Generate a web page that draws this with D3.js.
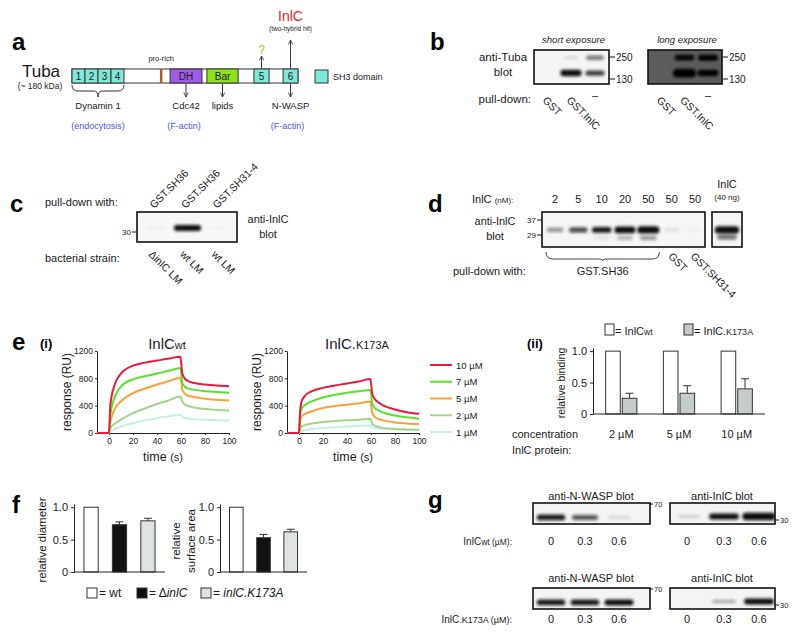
<!DOCTYPE html>
<html>
<head>
<meta charset="utf-8">
<script src="https://cdnjs.cloudflare.com/ajax/libs/d3/7.8.5/d3.min.js"></script>
<style>
  body { margin: 0; background: #fff; }
  svg text { font-family: "Liberation Sans", Arial, Helvetica, sans-serif; fill: #1a1a1a; }
</style>
</head>
<body>
<div id="fig"></div>
<script>
// ---- data ----
// a: Tuba domain map, start/end in % of protein length
const tubaDomains = [
  { name: '1', type: 'sh3', start: 0, end: 5.75 },
  { name: '2', type: 'sh3', start: 5.75, end: 11.5 },
  { name: '3', type: 'sh3', start: 11.5, end: 17.25 },
  { name: '4', type: 'sh3', start: 17.25, end: 23 },
  { name: '', type: 'pro', start: 38.9, end: 40 },
  { name: 'DH', type: 'dh', start: 43.4, end: 57.5 },
  { name: 'Bar', type: 'bar', start: 59.7, end: 73.5 },
  { name: '5', type: 'sh3', start: 80.5, end: 87.2 },
  { name: '6', type: 'sh3', start: 93.4, end: 100 }
];

// b: anti-Tuba pull-down blots (band kDa, intensity)
const bLanes = ['GST', 'GST.InlC', '–'];
const bMarkers = [250, 130];
const bShortBands = [
  { lane: 'GST.InlC', kda: 245, v: 0.12 },
  { lane: 'GST.InlC', kda: 155, v: 1.15 },
  { lane: '–', kda: 245, v: 0.55 },
  { lane: '–', kda: 155, v: 0.8 }
];
const bLongBands = [
  { lane: 'GST.InlC', kda: 245, v: 0.95 },
  { lane: 'GST.InlC', kda: 155, v: 1.8 },
  { lane: '–', kda: 245, v: 1.0 },
  { lane: '–', kda: 155, v: 1.15 }
];

// c: pull-down with SH3 constructs from bacterial lysates
const cBaits = ['GST.SH36', 'GST.SH36', 'GST.SH31-4'];
const cStrains = ['ΔinlC LM', 'wt LM', 'wt LM'];
const cBandKda = 32;
const cBandV = [0.04, 1.0, 0.02];

// d: InlC titration
const dConcNM = [2, 5, 10, 20, 50, 50, 50];
const dMainV = [0.45, 0.75, 0.95, 1.2, 1.4, 0.12, 0.04];
const dLowV = [0, 0, 0.1, 0.3, 0.45, 0, 0];
const dMarkers = [37, 29];
const dRefV = [1.35, 0.6];

// e(i): SPR sensorgrams (RU)
const sprTime = [-10, 0, 1, 2, 5, 10, 20, 30, 40, 50, 59.5, 61, 63, 66, 70, 80, 90, 100];
const sprConc = ['10 µM', '7 µM', '5 µM', '2 µM', '1 µM'];
const wt10 = [0, 0, 380, 520, 720, 870, 985, 1030, 1060, 1090, 1115, 880, 800, 760, 735, 710, 695, 685];
const wt7 = [0, 0, 250, 360, 540, 680, 785, 830, 870, 910, 950, 740, 680, 650, 635, 612, 600, 590];
const wt5 = [0, 0, 150, 220, 360, 465, 585, 650, 710, 760, 810, 640, 580, 545, 530, 500, 485, 475];
const wt2 = [0, 0, 60, 95, 140, 195, 290, 360, 425, 480, 535, 465, 420, 395, 378, 350, 338, 330];
const wt1 = [0, 0, 20, 35, 60, 95, 145, 185, 220, 245, 270, 235, 220, 210, 203, 193, 188, 184];
const k10 = [0, 0, 330, 450, 545, 605, 660, 695, 725, 755, 790, 580, 500, 450, 405, 345, 305, 280];
const k7 = [0, 0, 270, 350, 410, 460, 520, 560, 590, 610, 630, 440, 370, 330, 300, 255, 230, 210];
const k5 = [0, 0, 190, 240, 280, 315, 365, 395, 415, 435, 460, 300, 240, 205, 185, 155, 140, 130];
const k2 = [0, 0, 70, 95, 115, 135, 160, 175, 185, 195, 210, 140, 110, 90, 75, 60, 53, 48];
const k1 = [0, 0, 20, 30, 40, 55, 75, 85, 95, 105, 112, 85, 72, 65, 60, 53, 48, 45];
const sprTicksX = [0, 20, 40, 60, 80, 100];
const sprTicksY = [0, 400, 800, 1200];

// e(ii): relative binding
const bindConc = ['2 µM', '5 µM', '10 µM'];
const bindWt = [1, 1, 1];
const bindK = [0.25, 0.33, 0.40];
const bindKErr = [0.08, 0.12, 0.16];

// f: comet tail measurements
const strains = ['wt', 'ΔinlC', 'inlC.K173A'];
const diamVals = [1, 0.73, 0.79];
const diamErr = [0, 0.045, 0.04];
const areaVals = [1, 0.53, 0.62];
const areaErr = [0, 0.05, 0.04];

// g: competition blots
const gDoses = ['0', '0.3', '0.6'];
const gWtNwasp = [0.95, 0.7, 0.12];
const gWtInlc = [0.15, 1.0, 1.4];
const gKNwasp = [0.95, 0.95, 1.0];
const gKInlc = [0.0, 0.3, 1.0];

// ---- drawing ----
const svg = d3.select('#fig').append('svg').attr('width', 800).attr('height', 632);
const defs = svg.append('defs');
defs.append('filter').attr('id', 'blur')
  .attr('x', '-50%').attr('y', '-150%').attr('width', '200%').attr('height', '400%')
  .append('feGaussianBlur').attr('stdDeviation', 1.4);
defs.append('marker').attr('id', 'arr').attr('viewBox', '0 0 8 8')
  .attr('refX', 7).attr('refY', 4).attr('markerWidth', 6).attr('markerHeight', 6)
  .attr('orient', 'auto')
  .append('path').attr('d', 'M1,1 L7,4 L1,7').attr('fill', 'none')
  .attr('stroke', '#333').attr('stroke-width', 1.1);

function txt(g, x, y, s, o = {}) {
  const t = g.append('text').attr('x', x).attr('y', y).text(s)
    .style('font-size', (o.size || 10) + 'px');
  if (o.anchor) t.attr('text-anchor', o.anchor);
  if (o.weight) t.style('font-weight', o.weight);
  if (o.fill) t.style('fill', o.fill);
  if (o.italic) t.style('font-style', 'italic');
  if (o.rotate != null) t.attr('transform', `rotate(${o.rotate},${x},${y})`);
  return t;
}
function sub(t, s, size, italic) {
  const ts = t.append('tspan').text(s).style('font-size', size + 'px');
  if (italic) ts.style('font-style', 'italic');
  return t;
}
function arrow(g, x, y1, y2) {
  g.append('line').attr('x1', x).attr('x2', x).attr('y1', y1).attr('y2', y2)
    .attr('stroke', '#333').attr('stroke-width', 1).attr('marker-end', 'url(#arr)');
}

let clipId = 0;
// blot box with blurred bands
function blot(g, box, lx, bands, yOf, bg, ink) {
  const id = 'clip' + (clipId++);
  defs.append('clipPath').attr('id', id).append('rect')
    .attr('x', box.x0).attr('y', box.y0).attr('width', box.x1 - box.x0).attr('height', box.y1 - box.y0);
  g.append('rect').attr('x', box.x0).attr('y', box.y0)
    .attr('width', box.x1 - box.x0).attr('height', box.y1 - box.y0)
    .attr('fill', bg);
  const step = lx.step ? lx.step() : 24;
  const bw = d => step * (0.6 + 0.25 * Math.min(d.v, 1.6));
  const bh = d => 2.5 + 3.5 * d.v;
  g.append('g').attr('clip-path', `url(#${id})`).attr('filter', 'url(#blur)')
    .selectAll('rect').data(bands.filter(d => d.v > 0)).join('rect')
    .attr('x', d => lx(d.lane) - bw(d) / 2)
    .attr('y', d => yOf(d.kda) - bh(d) / 2)
    .attr('width', bw).attr('height', bh)
    .attr('rx', d => bh(d) / 2)
    .attr('fill', ink)
    .attr('opacity', d => Math.min(1, d.v));
  g.append('rect').attr('x', box.x0).attr('y', box.y0)
    .attr('width', box.x1 - box.x0).attr('height', box.y1 - box.y0)
    .attr('fill', 'none').attr('stroke', '#111').attr('stroke-width', 1.6);
}
function marker(g, x, y, label, side) {
  if (side === 'right') {
    g.append('line').attr('x1', x).attr('x2', x + 5).attr('y1', y).attr('y2', y).attr('stroke', '#111');
    txt(g, x + 6, y + 3.5, label, { size: 10 });
  } else {
    g.append('line').attr('x1', x - 5).attr('x2', x).attr('y1', y).attr('y2', y).attr('stroke', '#111');
    txt(g, x - 6, y + 3, label, { size: 8, anchor: 'end' });
  }
}

// panel letters
[['a', 12, 50], ['b', 430, 50], ['c', 10, 212], ['d', 428, 212],
 ['e', 12, 350], ['f', 12, 513], ['g', 428, 508]].forEach(([l, x, y]) =>
  txt(svg, x, y, l, { size: 24, weight: 'bold', fill: '#000' }));

// ---- a ----
{
  const g = svg.append('g');
  const x = d3.scaleLinear().domain([0, 100]).range([72, 298]);
  const y0 = 69, h = 14;
  const colors = { sh3: '#80e8d8', pro: '#a0602a', dh: '#9d5ce6', bar: '#8ee21e' };
  txt(g, 41, 77, 'Tuba', { size: 17, anchor: 'middle' });
  txt(g, 40, 89, '(~ 180 kDa)', { size: 8.5, anchor: 'middle' });
  g.append('rect').attr('x', x(0)).attr('y', y0).attr('width', x(100) - x(0)).attr('height', h)
    .attr('fill', '#fff').attr('stroke', '#333');
  g.selectAll('.dom').data(tubaDomains).join('rect')
    .attr('x', d => x(d.start)).attr('y', y0)
    .attr('width', d => x(d.end) - x(d.start)).attr('height', h)
    .attr('fill', d => colors[d.type]).attr('stroke', d => d.type === 'pro' ? 'none' : '#333');
  g.selectAll('.dl').data(tubaDomains.filter(d => d.name)).join('text')
    .attr('x', d => x((d.start + d.end) / 2)).attr('y', y0 + 10.5)
    .attr('text-anchor', 'middle').style('font-size', '10px').text(d => d.name);
  const mid = n => { const d = tubaDomains.find(e => e.name === n); return x((d.start + d.end) / 2); };
  const pro = tubaDomains.find(d => d.type === 'pro');
  txt(g, x((pro.start + pro.end) / 2), 61, 'pro-rich', { size: 7.5, anchor: 'middle' });
  // brace under SH3 1-4
  const a0 = x(0), a1 = x(23), m = (a0 + a1) / 2;
  g.append('path').attr('d', `M${a0},85 Q${a0},91 ${a0 + 6},91 L${m - 4},91 Q${m},91 ${m},97 Q${m},91 ${m + 4},91 L${a1 - 6},91 Q${a1},91 ${a1},85`)
    .attr('fill', 'none').attr('stroke', '#333');
  txt(g, m, 109, 'Dynamin 1', { size: 9.5, anchor: 'middle' });
  arrow(g, mid('DH'), 84, 97);
  txt(g, mid('DH'), 109, 'Cdc42', { size: 9.5, anchor: 'middle' });
  arrow(g, mid('Bar'), 84, 97);
  txt(g, mid('Bar'), 109, 'lipids', { size: 9.5, anchor: 'middle' });
  arrow(g, mid('6'), 84, 97);
  txt(g, mid('6'), 109, 'N-WASP', { size: 9.5, anchor: 'middle' });
  arrow(g, mid('5'), 68, 56);
  txt(g, mid('5'), 54, '?', { size: 12, anchor: 'middle', fill: '#8fd33c' });
  arrow(g, mid('6'), 68, 40);
  txt(g, mid('6'), 21, 'InlC', { size: 14, anchor: 'middle', fill: '#e8202a' });
  txt(g, mid('6'), 31, '(two-hybrid hit)', { size: 6.5, anchor: 'middle' });
  const blue = '#4b55e6';
  txt(g, m, 129, '(endocytosis)', { size: 9, anchor: 'middle', fill: blue });
  txt(g, mid('DH') - 2, 129, '(F-actin)', { size: 9, anchor: 'middle', fill: blue });
  txt(g, mid('6') - 3, 129, '(F-actin)', { size: 9, anchor: 'middle', fill: blue });
  g.append('rect').attr('x', 315).attr('y', 70).attr('width', 13).attr('height', 13)
    .attr('fill', colors.sh3).attr('stroke', '#333');
  txt(g, 333, 80, 'SH3 domain', { size: 9 });
}

// ---- b ----
{
  const g = svg.append('g');
  const yMW = d3.scaleLog().domain(bMarkers).range([57, 79]);
  const panels = [
    { x0: 534, x1: 609, title: 'short exposure', bands: bShortBands, bg: '#f5f5f5', ink: '#111' },
    { x0: 648, x1: 722, title: 'long exposure', bands: bLongBands, bg: '#5c5c5c', ink: '#050505' }
  ];
  panels.forEach(p => {
    const lx = d3.scalePoint().domain(bLanes).range([p.x0 + 13, p.x1 - 14]);
    blot(g, { x0: p.x0, x1: p.x1, y0: 50, y1: 84 }, lx, p.bands, yMW, p.bg, p.ink);
    bMarkers.forEach(k => marker(g, p.x1 + 1, yMW(k), k, 'right'));
    txt(g, (p.x0 + p.x1) / 2 + 2, 43, p.title, { size: 9.5, anchor: 'middle', italic: true });
    bLanes.forEach(l => {
      if (l === '–') txt(g, lx(l) - 3, 99, l, { size: 11 });
      else txt(g, lx(l) - 5, 101, l, { size: 10.5, rotate: 45 });
    });
  });
  txt(g, 503, 61, 'anti-Tuba', { size: 11.5, anchor: 'middle' });
  txt(g, 503, 76, 'blot', { size: 11.5, anchor: 'middle' });
  txt(g, 531, 103, 'pull-down:', { size: 11.5, anchor: 'end' });
}

// ---- c ----
{
  const g = svg.append('g');
  const lx = d3.scalePoint().domain(d3.range(3)).range([156, 219]);
  lx.step = () => 32;
  const yMW = d3.scaleLog().domain([30, 37]).range([232, 219]);
  const bands = cBandV.map((v, i) => ({ lane: i, kda: cBandKda, v }));
  blot(g, { x0: 137, x1: 237, y0: 212, y1: 242 }, lx, bands, yMW, '#f7f7f7', '#111');
  marker(g, 137, yMW(30), '30', 'left');
  txt(g, 45, 206, 'pull-down with:', { size: 11 });
  txt(g, 45, 262, 'bacterial strain:', { size: 11 });
  cBaits.forEach((b, i) => txt(g, lx(i) - 2, 209, b, { size: 10.5, rotate: -45 }));
  cStrains.forEach((s, i) => txt(g, lx(i) - 8, 255, s, { size: 10.5, rotate: 45 }));
  txt(g, 268, 223, 'anti-InlC', { size: 11, anchor: 'middle' });
  txt(g, 268, 238, 'blot', { size: 11, anchor: 'middle' });
}

// ---- d ----
{
  const g = svg.append('g');
  const lx = d3.scalePoint().domain(d3.range(dConcNM.length)).range([555, 695]);
  const yMW = d3.scaleLog().domain(dMarkers).range([220, 235]);
  const bands = [];
  dMainV.forEach((v, i) => bands.push({ lane: i, kda: 31.5, v }));
  dLowV.forEach((v, i) => bands.push({ lane: i, kda: 27.6, v }));
  blot(g, { x0: 542, x1: 705, y0: 212, y1: 247 }, lx, bands, yMW, '#f6f6f6', '#111');
  dMarkers.forEach(k => marker(g, 542, yMW(k), k, 'left'));
  const rx = d3.scalePoint().domain(['ref']).range([727, 727]);
  rx.step = () => 26;
  blot(g, { x0: 712, x1: 742, y0: 212, y1: 247 }, rx,
    [{ lane: 'ref', kda: 31.5, v: dRefV[0] }, { lane: 'ref', kda: 28, v: dRefV[1] }], yMW, '#f6f6f6', '#111');
  const t = txt(g, 472, 203, 'InlC ', { size: 11 });
  sub(t, '(nM):', 8);
  dConcNM.forEach((c, i) => txt(g, lx(i), 203, c, { size: 11, anchor: 'middle' }));
  txt(g, 727, 188, 'InlC', { size: 11, anchor: 'middle' });
  txt(g, 727, 200, '(40 ng)', { size: 8, anchor: 'middle' });
  txt(g, 495, 225, 'anti-InlC', { size: 11, anchor: 'middle' });
  txt(g, 495, 240, 'blot', { size: 11, anchor: 'middle' });
  const b0 = lx(0) - 9, b1 = lx(4) + 11, bm = (b0 + b1) / 2;
  g.append('path').attr('d', `M${b0},252 Q${b0},259 ${b0 + 7},259 L${bm - 3},259 Q${bm},259 ${bm},261 Q${bm},259 ${bm + 3},259 L${b1 - 7},259 Q${b1},259 ${b1},252`)
    .attr('fill', 'none').attr('stroke', '#444');
  txt(g, bm, 275, 'GST.SH36', { size: 11, anchor: 'middle' });
  txt(g, 453, 275, 'pull-down with:', { size: 11 });
  txt(g, lx(5) - 4, 257, 'GST', { size: 10.5, rotate: 45 });
  txt(g, lx(6) - 5, 257, 'GST.SH31-4', { size: 10.5, rotate: 45 });
}

// ---- e(i) ----
const sprColors = ['#e8193c', '#5ae22a', '#f9a13a', '#a4d38e', '#c4eee8'];
function styleAxis(sel, size) {
  sel.select('.domain').attr('stroke', '#222');
  sel.selectAll('.tick line').attr('stroke', '#222');
  sel.selectAll('text').style('font-size', size + 'px').attr('fill', '#1a1a1a');
}
function sprPanel(x0, x1, titleMain, titleSub, series) {
  const g = svg.append('g');
  const x = d3.scaleLinear().domain([-10, 100]).range([x0, x1]);
  const y = d3.scaleLinear().domain([0, 1200]).range([433, 351]);
  const line = d3.line().x((d, i) => x(sprTime[i])).y(d => y(d)).curve(d3.curveMonotoneX);
  g.append('g').attr('transform', 'translate(0,433)')
    .call(d3.axisBottom(x).tickValues(sprTicksX).tickSize(2).tickSizeOuter(0).tickPadding(3))
    .call(s => styleAxis(s, 8.5));
  g.append('g').attr('transform', `translate(${x0},0)`)
    .call(d3.axisLeft(y).tickValues(sprTicksY).tickFormat(d3.format('d')).tickSize(2).tickSizeOuter(0).tickPadding(2))
    .call(s => styleAxis(s, 8.5));
  series.map((s, i) => ({ s, c: sprColors[i] })).reverse().forEach(d => {
    g.append('path').datum(d.s).attr('d', line)
      .attr('fill', 'none').attr('stroke', d.c).attr('stroke-width', 2);
  });
  const cx = x(45);
  const t = txt(g, cx + 4, 349, titleMain, { size: 15, anchor: 'middle' });
  sub(t, titleSub, 11);
  txt(g, x(45), 461, 'time ', { size: 12.5, anchor: 'middle' }).call(tt => sub(tt, '(s)', 11));
  txt(g, x0 - 26, 392, 'response (RU)', { size: 12, anchor: 'middle', rotate: -90 });
}
sprPanel(97, 229, 'InlC', 'wt', [wt10, wt7, wt5, wt2, wt1]);
sprPanel(287, 419, 'InlC.', 'K173A', [k10, k7, k5, k2, k1]);
txt(svg, 40, 348, '(i)', { size: 13, weight: 'bold', fill: '#000' });
{
  const ly = d3.scalePoint().domain(sprConc).range([365, 432]);
  sprConc.forEach((c, i) => {
    svg.append('line').attr('x1', 430).attr('x2', 452).attr('y1', ly(c)).attr('y2', ly(c))
      .attr('stroke', sprColors[i]).attr('stroke-width', 2);
    txt(svg, 456, ly(c) + 3.5, c, { size: 9.5 });
  });
}

// ---- e(ii) ----
{
  const g = svg.append('g');
  const x = d3.scaleBand().domain(bindConc).range([595, 763]).paddingInner(0.39).paddingOuter(0.15);
  const xs = d3.scaleBand().domain(['wt', 'k']).range([0, x.bandwidth()]).padding(0.12);
  const y = d3.scaleLinear().domain([0, 1.05]).range([414, 348]);
  const gray = '#c6cdc9';
  bindConc.forEach((c, i) => {
    g.append('rect').attr('x', x(c) + xs('wt')).attr('y', y(bindWt[i]))
      .attr('width', xs.bandwidth()).attr('height', y(0) - y(bindWt[i]))
      .attr('fill', '#fff').attr('stroke', '#333');
    const bx = x(c) + xs('k') + xs.bandwidth() / 2;
    g.append('line').attr('x1', bx).attr('x2', bx).attr('y1', y(bindK[i])).attr('y2', y(bindK[i] + bindKErr[i])).attr('stroke', '#333');
    g.append('line').attr('x1', bx - 4).attr('x2', bx + 4).attr('y1', y(bindK[i] + bindKErr[i])).attr('y2', y(bindK[i] + bindKErr[i])).attr('stroke', '#333');
    g.append('rect').attr('x', x(c) + xs('k')).attr('y', y(bindK[i]))
      .attr('width', xs.bandwidth()).attr('height', y(0) - y(bindK[i]))
      .attr('fill', gray).attr('stroke', '#333');
    txt(g, x(c) + x.bandwidth() / 2, 438, c, { size: 11, anchor: 'middle' });
  });
  g.append('g').attr('transform', 'translate(593,0)')
    .call(d3.axisLeft(y).tickValues([0, 0.5, 1]).tickFormat(d => d === 0 ? '0' : d3.format('.1f')(d)).tickSize(3).tickSizeOuter(0))
    .call(s => styleAxis(s, 11));
  g.append('line').attr('x1', 593).attr('x2', 765).attr('y1', 414).attr('y2', 414).attr('stroke', '#222');
  txt(g, 565, 383, 'relative binding', { size: 10.5, anchor: 'middle', rotate: -90 });
  txt(g, 512, 438, 'concentration', { size: 11 });
  txt(g, 512, 454, 'InlC protein:', { size: 11 });
  txt(g, 527, 348, '(ii)', { size: 13, weight: 'bold', fill: '#000' });
  g.append('rect').attr('x', 605).attr('y', 324).attr('width', 9).attr('height', 11).attr('fill', '#fff').attr('stroke', '#333');
  sub(txt(g, 615, 335, '= InlC', { size: 11 }), 'wt', 8.5);
  g.append('rect').attr('x', 684).attr('y', 324).attr('width', 9).attr('height', 11).attr('fill', gray).attr('stroke', '#333');
  sub(txt(g, 694, 335, '= InlC.', { size: 11 }), 'K173A', 9);
}

// ---- f ----
const strainFill = ['#fff', '#111', '#dfe4e1'];
function fChart(x0, x1, vals, errs) {
  const g = svg.append('g');
  const x = d3.scaleBand().domain(strains).range([x0, x1]).paddingInner(0.5).paddingOuter(0.35);
  const y = d3.scaleLinear().domain([0, 1.05]).range([572, 504]);
  strains.forEach((s, i) => {
    const bx = x(s) + x.bandwidth() / 2;
    if (errs[i] > 0) {
      g.append('line').attr('x1', bx).attr('x2', bx).attr('y1', y(vals[i])).attr('y2', y(vals[i] + errs[i])).attr('stroke', '#333');
      g.append('line').attr('x1', bx - 4).attr('x2', bx + 4).attr('y1', y(vals[i] + errs[i])).attr('y2', y(vals[i] + errs[i])).attr('stroke', '#333');
    }
    g.append('rect').attr('x', x(s)).attr('y', y(vals[i]))
      .attr('width', x.bandwidth()).attr('height', y(0) - y(vals[i]))
      .attr('fill', strainFill[i]).attr('stroke', '#333');
  });
  g.append('g').attr('transform', `translate(${x0},0)`)
    .call(d3.axisLeft(y).tickValues([0, 0.5, 1]).tickFormat(d => d === 0 ? '0' : d3.format('.1f')(d)).tickSize(3).tickSizeOuter(0))
    .call(s => styleAxis(s, 11));
  g.append('line').attr('x1', x0).attr('x2', x1).attr('y1', 572).attr('y2', 572).attr('stroke', '#222');
  return g;
}
fChart(74, 165, diamVals, diamErr);
txt(svg, 46, 540, 'relative diameter', { size: 11.5, anchor: 'middle', rotate: -90 });
fChart(220, 307, areaVals, areaErr);
txt(svg, 180, 541, 'relative', { size: 11.5, anchor: 'middle', rotate: -90 });
txt(svg, 195, 541, 'surface area', { size: 11.5, anchor: 'middle', rotate: -90 });
{
  const g = svg.append('g');
  const lx = [87, 137, 201];
  strains.forEach((s, i) => {
    g.append('rect').attr('x', lx[i]).attr('y', 588).attr('width', 10).attr('height', 10)
      .attr('fill', strainFill[i]).attr('stroke', '#333');
  });
  txt(g, 99, 597, '= wt', { size: 12 });
  sub(txt(g, 149, 597, '= Δ', { size: 12 }), 'inlC', 12, true);
  sub(txt(g, 213, 597, '= ', { size: 12 }), 'inlC.K173A', 12, true);
}

// ---- g ----
{
  const g = svg.append('g');
  const rows = [
    { y0: 503, title: 500, lab: 545, nw: gWtNwasp, inl: gWtInlc, name: 'wt', nameSize: 8.5 },
    { y0: 588, title: 582, lab: 623, nw: gKNwasp, inl: gKInlc, name: '.K173A', nameSize: 9 }
  ];
  const lxN = d3.scalePoint().domain(gDoses).range([551, 619]);
  const lxI = d3.scalePoint().domain(gDoses).range([689, 759]);
  rows.forEach(r => {
    const box1 = { x0: 533, x1: 650, y0: r.y0, y1: r.y0 + 21 };
    const box2 = { x0: 670, x1: 775, y0: r.y0, y1: r.y0 + 21 };
    const yN = d3.scaleLog().domain([70, 55]).range([r.y0 + 1, r.y0 + 22]);
    const yI = d3.scaleLog().domain([37, 30]).range([r.y0 + 2, r.y0 + 17]);
    blot(g, box1, lxN, r.nw.map((v, i) => ({ lane: gDoses[i], kda: 60, v })), yN, '#f4f4f4', '#111');
    blot(g, box2, lxI, r.inl.map((v, i) => ({ lane: gDoses[i], kda: 31.5, v })), yI, '#f4f4f4', '#111');
    g.append('line').attr('x1', 650).attr('x2', 653).attr('y1', yN(70)).attr('y2', yN(70)).attr('stroke', '#111');
    txt(g, 654, yN(70) + 3, '70', { size: 7.5 });
    g.append('line').attr('x1', 775).attr('x2', 779).attr('y1', yI(30)).attr('y2', yI(30)).attr('stroke', '#111');
    txt(g, 780, yI(30) + 3, '30', { size: 7.5 });
    txt(g, 591, r.title, 'anti-N-WASP blot', { size: 11, anchor: 'middle' });
    txt(g, 722, r.title, 'anti-InlC blot', { size: 11, anchor: 'middle' });
    gDoses.forEach(d => {
      txt(g, lxN(d), r.lab, d, { size: 11, anchor: 'middle' });
      txt(g, lxI(d) - (d === '0' ? 2 : 0), r.lab, d, { size: 11, anchor: 'middle' });
    });
    const t = txt(g, 512, r.lab, 'InlC', { size: 10, anchor: 'end' });
    sub(t, r.name + ' (µM):', r.nameSize);
  });
}
</script>
</body>
</html>
